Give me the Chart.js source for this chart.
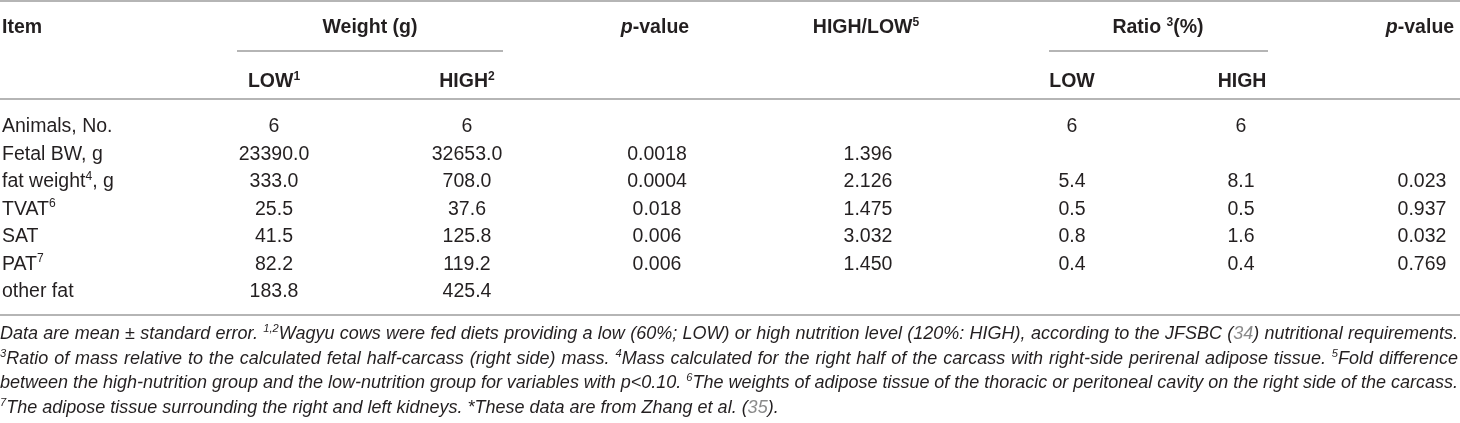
<!DOCTYPE html>
<html>
<head>
<meta charset="utf-8">
<script src="https://cdn.jsdelivr.net/npm/chart.js@4.4.1/dist/chart.umd.min.js"></script>
<style>
  html, body { margin: 0; padding: 0; background: #fff; }
  #caixa { width: 1460px; height: 423px; position: relative; }
</style>
</head>
<body>
<div id="caixa"><canvas id="tabela"></canvas></div>
<script>
// ^..^ = superscript, _.._ = italic, {..} = reference number
const items = ['Animals, No.', 'Fetal BW, g', 'fat weight^4^, g', 'TVAT^6^', 'SAT', 'PAT^7^', 'other fat']

const weightLow  = [6, 23390.0, 333.0, 25.5, 41.5, 82.2, 183.8]
const weightHigh = [6, 32653.0, 708.0, 37.6, 125.8, 119.2, 425.4]
const pWeight    = [null, 0.0018, 0.0004, 0.018, 0.006, 0.006, null]
const highLow    = [null, 1.396, 2.126, 1.475, 3.032, 1.450, null]
const ratioLow   = [6, null, 5.4, 0.5, 0.8, 0.4, null]
const ratioHigh  = [6, null, 8.1, 0.5, 1.6, 0.4, null]
const pRatio     = [null, null, 0.023, 0.937, 0.032, 0.769, null]

const headTop = ['Item', 'Weight (g)', '_p_-value', 'HIGH/LOW^5^', 'Ratio ^3^(%)', '_p_-value']
const headSub = ['LOW^1^', 'HIGH^2^', 'LOW', 'HIGH']

const footnotes = [
  'Data are mean ± standard error. ^1,2^Wagyu cows were fed diets providing a low (60%; LOW) or high nutrition level (120%: HIGH), according to the JFSBC ({34}) nutritional requirements.',
  '^3^Ratio of mass relative to the calculated fetal half-carcass (right side) mass. ^4^Mass calculated for the right half of the carcass with right-side perirenal adipose tissue. ^5^Fold difference',
  'between the high-nutrition group and the low-nutrition group for variables with p<0.10. ^6^The weights of adipose tissue of the thoracic or peritoneal cavity on the right side of the carcass.',
  '^7^The adipose tissue surrounding the right and left kidneys. *These data are from Zhang et al. ({35}).'
]

// layout
const colX = [274, 467, 657, 868, 1072, 1241, 1422]
const headTopX = [2, 370, 655, 866, 1158, 1420]
const headSubX = [274, 467, 1072, 1242]
const FONT = '"Liberation Sans", Arial, Helvetica, sans-serif'
const corTexto = '#231f20'
const corLinha = '#9d9d9d'

const colunas = [
  { vals: weightLow,  tipo: 'peso' },
  { vals: weightHigh, tipo: 'peso' },
  { vals: pWeight,    tipo: 'p' },
  { vals: highLow,    tipo: 'razao' },
  { vals: ratioLow,   tipo: 'peso' },
  { vals: ratioHigh,  tipo: 'peso' },
  { vals: pRatio,     tipo: 'p' }
]

function formata(tipo, v, linha) {
  if (v === null) return ''
  if (tipo === 'p') return String(v)
  if (tipo === 'razao') return v.toFixed(3)
  return linha === 0 ? String(v) : v.toFixed(1)
}

function parseRico(str) {
  const out = []
  let sup = false, it = false, ref = false, buf = ''
  const push = () => { if (buf) out.push({ t: buf, sup, it, ref }); buf = '' }
  for (const ch of str) {
    if (ch === '^') { push(); sup = !sup }
    else if (ch === '_') { push(); it = !it }
    else if (ch === '{') { push(); ref = true }
    else if (ch === '}') { push(); ref = false }
    else buf += ch
  }
  push()
  return out
}

function fonte(p, o) {
  const tam = p.sup ? o.size * 0.62 : o.size
  return (p.it || o.italic ? 'italic ' : '') + (o.bold ? 'bold ' : '') + tam + 'px ' + FONT
}

function larguraRico(ctx, pecas, o) {
  let w = 0
  pecas.forEach(p => { ctx.font = fonte(p, o); w += ctx.measureText(p.t).width })
  return w
}

function desenhaRico(ctx, str, x, y, o) {
  const pecas = parseRico(str)
  const w = larguraRico(ctx, pecas, o)
  let extra = 0
  if (o.justifica) {
    let espacos = 0
    pecas.forEach(p => { if (!p.sup) espacos += (p.t.match(/ /g) || []).length })
    if (espacos > 0) extra = (o.justifica - w) / espacos
  }
  let cx = x
  if (o.align === 'center') cx = x - w / 2
  if (o.align === 'right') cx = x - w
  ctx.textAlign = 'left'
  ctx.textBaseline = 'alphabetic'
  pecas.forEach(p => {
    ctx.font = fonte(p, o)
    ctx.fillStyle = p.ref ? '#8a8a8a' : corTexto
    const yy = p.sup ? y - o.size * 0.38 : y
    const partes = p.t.split(' ')
    partes.forEach((pt, k) => {
      ctx.fillText(pt, cx, yy)
      cx += ctx.measureText(pt).width
      if (k < partes.length - 1) cx += ctx.measureText(' ').width + (p.sup ? 0 : extra)
    })
  })
}

const tabelaPlugin = {
  id: 'tabela',
  afterDatasetsDraw(chart) {
    const ctx = chart.ctx
    const sx = chart.scales.x
    ctx.save()

    // linhas
    ctx.strokeStyle = corLinha
    ctx.lineWidth = 1.5
    const hline = (x0, x1, y) => {
      ctx.beginPath(); ctx.moveTo(sx.getPixelForValue(x0), y); ctx.lineTo(sx.getPixelForValue(x1), y); ctx.stroke()
    }
    hline(0, 1460, 1)
    hline(237, 503, 51)
    hline(1049, 1268, 51)
    hline(0, 1460, 99)
    hline(0, 1460, 315)

    // cabecalho
    headTop.forEach((h, i) => {
      desenhaRico(ctx, h, sx.getPixelForValue(headTopX[i]), 33, { size: 19.5, bold: true, align: i === 0 ? 'left' : 'center' })
    })
    headSub.forEach((h, i) => {
      desenhaRico(ctx, h, sx.getPixelForValue(headSubX[i]), 87, { size: 19.5, bold: true, align: 'center' })
    })

    // nomes das linhas
    const meta0 = chart.getDatasetMeta(0)
    items.forEach((it, i) => {
      desenhaRico(ctx, it, 2, meta0.data[i].y + 7, { size: 19.5, align: 'left' })
    })

    // celulas
    colunas.forEach((c, ci) => {
      const meta = chart.getDatasetMeta(ci)
      meta.data.forEach((pt, li) => {
        const txt = formata(c.tipo, c.vals[li], li)
        if (txt) desenhaRico(ctx, txt, pt.x, pt.y + 7, { size: 19.5, align: 'center' })
      })
    })

    // notas de rodape
    const base = larguraRico(ctx, parseRico(footnotes[3]), { size: 16, italic: true })
    const tam = 16 * 779 / base
    footnotes.forEach((f, i) => {
      desenhaRico(ctx, f, 0, 339 + i * 24.5, { size: tam, italic: true, align: 'left', justifica: i < 3 ? 1458 : 0 })
    })

    ctx.restore()
  }
}

const ctx = document.getElementById('tabela')

const data = {
  datasets: colunas.map((c, ci) => ({
    data: items.map((it, li) => ({ x: colX[ci], y: li })),
    pointRadius: 0,
    pointHoverRadius: 0,
    showLine: false
  }))
}

const config = {
  type: 'scatter',
  data,
  options: {
    responsive: true,
    maintainAspectRatio: false,
    animation: false,
    events: [],
    layout: { padding: { top: 111.25, bottom: 119.25, left: 0, right: 0 } },
    plugins: {
      legend: { display: false },
      tooltip: { enabled: false }
    },
    scales: {
      x: { type: 'linear', display: false, min: 0, max: 1460 },
      y: { type: 'linear', display: false, min: -0.5, max: 6.5, reverse: true }
    }
  },
  plugins: [tabelaPlugin]
}

new Chart(ctx, config)
</script>
</body>
</html>
